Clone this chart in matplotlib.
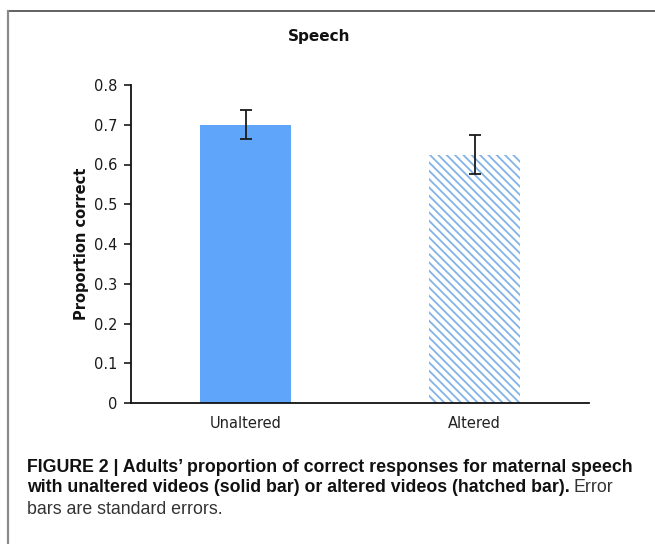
import matplotlib
matplotlib.use("Agg")
import matplotlib.pyplot as plt
from matplotlib.lines import Line2D

# Data
conditions = ["Unaltered", "Altered"]
proportion_correct = [0.70, 0.625]
std_errors = [0.036, 0.049]
y_ticks = [0, 0.1, 0.2, 0.3, 0.4, 0.5, 0.6, 0.7, 0.8]
y_tick_labels = ["0", "0.1", "0.2", "0.3", "0.4", "0.5", "0.6", "0.7", "0.8"]

W, H = 655, 544
fig = plt.figure(figsize=(W / 100, H / 100), dpi=100)
fig.patch.set_facecolor("white")

plt.rcParams["hatch.linewidth"] = 1.3

ax = fig.add_axes([131 / W, 1 - 403 / H, (589 - 131) / W, (403 - 85) / H])
x = list(range(len(conditions)))
ax.bar(x[0], proportion_correct[0], width=0.4, color="#5fa5f9",
       linewidth=0, zorder=2)
ax.bar(x[1], proportion_correct[1], width=0.4, color="white",
       edgecolor="#82b3e6", hatch="\\\\\\\\", linewidth=0, zorder=2)
ax.errorbar(x, proportion_correct, yerr=std_errors, fmt="none",
            ecolor="#1a1a1a", elinewidth=1.3, capsize=4, capthick=1.3, zorder=3)

ax.set_xlim(-0.5, 1.5)
ax.set_ylim(0, 0.8)
ax.set_yticks(y_ticks)
ax.set_yticklabels(y_tick_labels)
ax.set_xticks(x)
ax.set_xticklabels(conditions)
ax.tick_params(axis="y", length=5, width=1.2, pad=5, labelsize=10.5,
               colors="#1a1a1a")
ax.tick_params(axis="x", length=0, pad=9, labelsize=10.5, colors="#222222")
for s in ["top", "right"]:
    ax.spines[s].set_visible(False)
for s in ["left", "bottom"]:
    ax.spines[s].set_linewidth(1.3)
    ax.spines[s].set_color("#111111")
ax.set_ylabel("Proportion correct", fontsize=10.5, fontweight="bold",
              labelpad=3, color="#111111")

fig.text(319 / W, 1 - 37 / H, "Speech", ha="center", va="center",
         fontsize=11, fontweight="bold", color="#111111")

# Frame around the figure panel
fig.add_artist(Line2D([8 / W, 1.0], [1 - 11 / H, 1 - 11 / H],
                      transform=fig.transFigure, color="#555555", lw=1.3))
fig.add_artist(Line2D([8 / W, 8 / W], [1 - 11 / H, 0.0],
                      transform=fig.transFigure, color="#8a8a8a", lw=1.6))

# Caption
cap_font = ["Liberation Sans", "DejaVu Sans"]
cap_size = 12.8
x0 = 27 / W
fig.text(x0, 1 - 467 / H,
         "FIGURE 2 | Adults\u2019 proportion of correct responses for maternal speech",
         ha="left", va="center", fontsize=cap_size, fontweight="bold",
         family=cap_font, color="#111111")
t2 = fig.text(x0, 1 - 488 / H,
              "with unaltered videos (solid bar) or altered videos (hatched bar).",
              ha="left", va="center", fontsize=cap_size, fontweight="bold",
              family=cap_font, color="#111111")
renderer = fig.canvas.get_renderer()
bb = t2.get_window_extent(renderer)
fig.text(bb.x1 / W + 4 / W, 1 - 488 / H, "Error", ha="left", va="center",
         fontsize=cap_size, family=cap_font, color="#333333")
fig.text(x0, 1 - 509 / H, "bars are standard errors.", ha="left", va="center",
         fontsize=cap_size, family=cap_font, color="#333333")

fig.savefig("out.png", dpi=100)
